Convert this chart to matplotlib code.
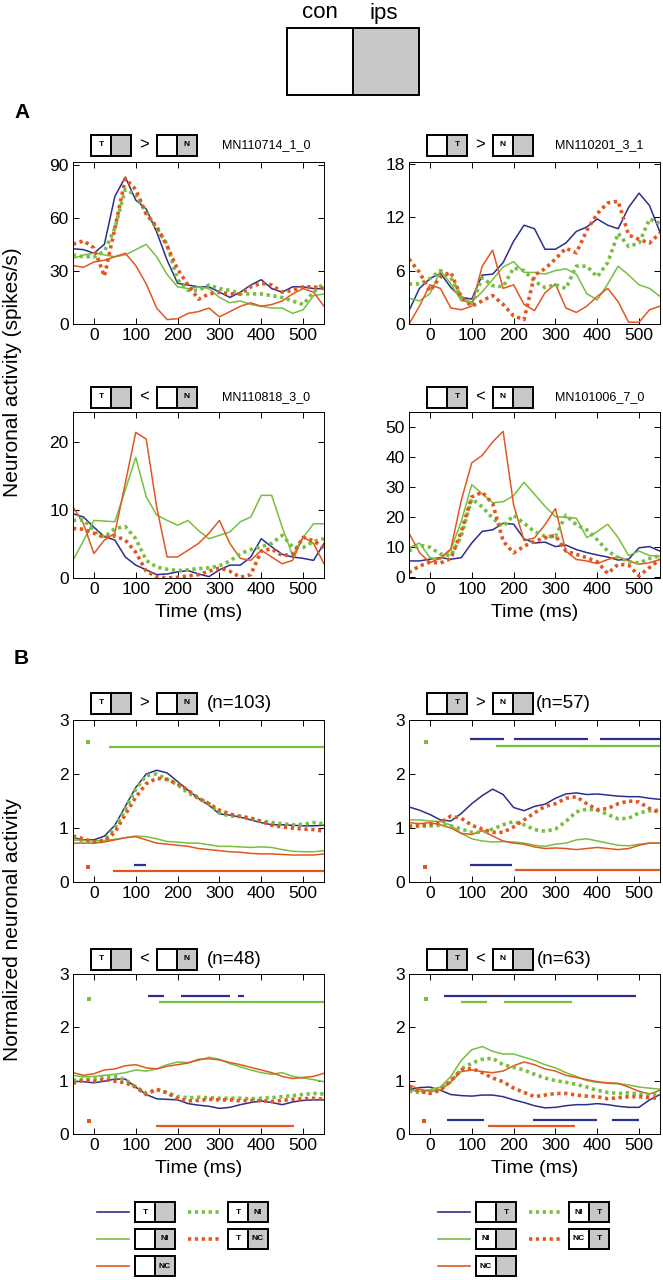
import numpy as np
import matplotlib.pyplot as plt
from matplotlib.patches import Rectangle

plt.rcParams['font.family'] = ['Liberation Sans', 'DejaVu Sans']
NARROW = ['Liberation Sans Narrow', 'Liberation Sans', 'DejaVu Sans']

BLUE = '#2b2f8e'
GREEN = '#76bf3f'
ORANGE = '#e2571f'
GRAY = '#c8c8c8'

W, H = 663, 1280

# time axis (ms), common to all panels
t = np.arange(-50, 551, 25)

# ---- panel A, single neurons (spikes/s) ----
a1_blue = [42.5, 42, 40, 45, 72, 83, 70, 65, 52, 36, 23, 22, 21, 21, 18, 15, 18, 22, 25, 20, 18, 21, 21, 20, 20]
a1_green = [37, 39, 40, 39, 38, 39, 42, 45, 38, 28, 21, 20, 21, 20, 15, 12, 13, 11, 10, 9, 9, 6, 8, 16, 17]
a1_orange = [33, 32, 35, 36, 38, 40, 33, 22.7, 9, 2.5, 3, 6, 7, 9, 4, 7, 10, 12, 10, 11, 13, 17, 20, 18, 10]
a1_green_dot = [39, 38, 38, 41, 54, 76, 73, 63, 54, 45, 25, 19, 19, 22, 20, 19, 17, 17, 17, 16, 15, 13, 11, 18, 23]
a1_orange_dot = [45, 47, 43, 27, 54, 82, 76, 62, 55, 44, 31, 22, 14, 17, 18, 17, 17, 21, 23, 22, 18, 19, 21, 21, 20]

a2_blue = [1.5, 4.0, 5.1, 5.7, 4.1, 3.0, 2.8, 5.5, 5.6, 6.9, 9.3, 11.1, 10.7, 8.4, 8.4, 9.1, 10.4, 10.9, 11.8, 11.1, 10.7, 13.1, 14.7, 13.3, 10.3]
a2_green = [2.9, 2.6, 3.4, 6.0, 4.5, 2.6, 2.5, 3.6, 5.0, 6.4, 7.0, 5.8, 5.8, 5.6, 6.0, 6.2, 5.6, 3.4, 2.7, 4.5, 6.5, 5.5, 4.4, 4.0, 3.1]
a2_orange = [0.0, 2.0, 4.4, 4.0, 1.8, 1.6, 2.0, 6.5, 8.3, 4.0, 4.4, 2.2, 1.5, 3.5, 4.5, 1.8, 1.3, 2.0, 3.1, 4.0, 2.5, 0.2, 0.2, 1.6, 2.0]
a2_green_dot = [4.5, 4.5, 5.1, 6.0, 5.2, 3.0, 2.2, 5.2, 4.3, 4.2, 6.3, 6.0, 4.8, 4.1, 4.4, 4.0, 6.5, 6.5, 5.3, 6.9, 10.2, 8.7, 9.1, 11.8, 11.3]
a2_orange_dot = [7.3, 5.8, 3.7, 5.3, 5.8, 3.0, 2.0, 2.6, 3.2, 2.2, 0.9, 0.5, 5.5, 6.2, 7.3, 8.5, 8.0, 10.5, 12.4, 13.6, 13.8, 10.0, 9.5, 9.1, 10.2]

a3_blue = [9.5, 9.0, 7.5, 6.1, 5.6, 3.1, 1.9, 1.2, 0.5, 0.6, 0.9, 1.1, 0.6, 0.2, 1.2, 1.9, 1.9, 3.1, 5.8, 4.6, 3.5, 3.1, 2.9, 2.6, 5.1]
a3_green = [2.6, 5.5, 8.5, 8.4, 8.3, 13.0, 17.8, 12.0, 9.3, 8.5, 7.8, 8.5, 7.0, 5.8, 6.3, 6.8, 8.3, 9.0, 12.2, 12.2, 7.5, 3.3, 6.0, 8.0, 8.0]
a3_orange = [10.5, 8.0, 3.6, 5.6, 6.6, 14.0, 21.5, 20.5, 10.5, 3.1, 3.1, 4.1, 5.1, 6.6, 8.5, 5.1, 2.9, 2.6, 4.1, 3.1, 2.1, 2.6, 6.1, 5.1, 2.1]
a3_green_dot = [8.5, 8.6, 7.0, 6.0, 7.3, 7.6, 5.8, 2.6, 1.6, 1.3, 1.1, 1.2, 1.4, 1.5, 1.8, 2.5, 3.6, 4.2, 4.6, 5.1, 6.3, 4.6, 4.5, 5.4, 5.8]
a3_orange_dot = [7.3, 7.2, 6.6, 6.0, 6.2, 5.6, 3.8, 1.0, 0.2, 0.0, 0.1, 0.3, 0.5, 1.0, 1.5, 1.0, 0.1, 0.5, 4.0, 4.3, 3.3, 3.5, 6.0, 5.5, 4.4]

a4_blue = [5.2, 5.2, 5.8, 6.3, 5.8, 6.3, 11.2, 15.1, 15.6, 17.8, 17.5, 12.6, 11.2, 11.5, 10.0, 10.5, 9.0, 8.0, 7.2, 6.5, 5.5, 5.8, 9.6, 10.0, 8.5]
a4_green = [9.6, 11.2, 6.3, 5.7, 9.0, 18.4, 30.7, 27.7, 24.6, 25.0, 27.0, 31.5, 27.5, 23.5, 20.0, 19.8, 19.5, 13.0, 15.0, 17.5, 13.0, 7.0, 8.5, 7.0, 6.8]
a4_orange = [14.5, 8.0, 4.6, 6.2, 9.2, 25.5, 38.0, 40.5, 45.0, 48.5, 24.0, 12.0, 12.9, 17.3, 22.7, 8.5, 5.7, 5.2, 4.3, 5.7, 6.6, 5.2, 4.1, 4.6, 5.7]
a4_green_dot = [8.5, 10.5, 9.8, 7.5, 7.0, 13.5, 26.0, 23.3, 19.5, 16.7, 20.5, 17.8, 15.0, 13.4, 13.4, 20.5, 17.3, 15.6, 12.3, 8.5, 6.3, 5.0, 4.5, 6.0, 7.0]
a4_orange_dot = [1.3, 3.5, 4.8, 4.5, 6.0, 15.0, 26.6, 28.2, 24.4, 11.8, 7.9, 10.1, 11.8, 12.9, 13.7, 8.5, 7.4, 6.3, 4.9, 1.0, 4.1, 3.8, 0.2, 3.0, 5.7]

# ---- panel B, population averages (normalized) ----
b1_blue = [0.82, 0.78, 0.78, 0.85, 1.05, 1.4, 1.75, 2.0, 2.07, 2.02, 1.86, 1.7, 1.55, 1.42, 1.26, 1.24, 1.2, 1.15, 1.1, 1.06, 1.06, 1.05, 1.04, 1.04, 1.05]
b1_green = [0.78, 0.77, 0.76, 0.77, 0.79, 0.82, 0.85, 0.84, 0.8, 0.75, 0.74, 0.72, 0.72, 0.69, 0.66, 0.66, 0.65, 0.64, 0.65, 0.64, 0.6, 0.57, 0.56, 0.56, 0.58]
b1_orange = [0.72, 0.72, 0.72, 0.74, 0.78, 0.82, 0.84, 0.78, 0.72, 0.7, 0.68, 0.66, 0.62, 0.6, 0.58, 0.56, 0.55, 0.53, 0.52, 0.52, 0.51, 0.5, 0.5, 0.5, 0.52]
b1_green_dot = [0.8, 0.76, 0.74, 0.78, 1.0, 1.35, 1.72, 1.97, 2.0, 1.9, 1.8, 1.65, 1.55, 1.45, 1.28, 1.22, 1.22, 1.18, 1.13, 1.1, 1.08, 1.06, 1.07, 1.1, 1.08]
b1_orange_dot = [0.85, 0.8, 0.74, 0.76, 0.92, 1.25, 1.57, 1.82, 1.92, 1.9, 1.82, 1.7, 1.55, 1.45, 1.33, 1.26, 1.21, 1.18, 1.12, 1.05, 1.02, 1.0, 0.98, 0.97, 0.94]

b2_blue = [1.39, 1.33, 1.25, 1.15, 1.13, 1.27, 1.45, 1.6, 1.72, 1.62, 1.38, 1.32, 1.4, 1.44, 1.55, 1.63, 1.65, 1.62, 1.63, 1.61, 1.59, 1.58, 1.58, 1.55, 1.53]
b2_green = [1.15, 1.15, 1.13, 1.12, 1.05, 0.9, 0.8, 0.76, 0.74, 0.75, 0.74, 0.72, 0.68, 0.66, 0.7, 0.72, 0.78, 0.8, 0.76, 0.72, 0.68, 0.67, 0.7, 0.72, 0.72]
b2_orange = [1.1, 1.08, 1.1, 1.06, 1.0, 0.9, 0.88, 0.95, 0.85, 0.76, 0.72, 0.7, 0.65, 0.62, 0.63, 0.62, 0.6, 0.62, 0.64, 0.62, 0.6, 0.62, 0.68, 0.72, 0.72]
b2_green_dot = [1.03, 1.03, 1.04, 1.05, 1.04, 0.98, 0.92, 0.92, 0.98, 1.06, 1.12, 1.06, 0.97, 0.94, 0.98, 1.12, 1.3, 1.35, 1.33, 1.25, 1.17, 1.18, 1.28, 1.32, 1.33]
b2_orange_dot = [1.03, 1.05, 1.06, 1.1, 1.22, 1.18, 1.05, 0.98, 0.92, 0.92, 1.02, 1.15, 1.28, 1.4, 1.45, 1.55, 1.58, 1.45, 1.34, 1.36, 1.45, 1.5, 1.48, 1.36, 1.28]

b3_blue = [0.99, 0.98, 0.96, 0.99, 1.03, 1.03, 0.88, 0.74, 0.66, 0.65, 0.64, 0.57, 0.54, 0.52, 0.48, 0.5, 0.55, 0.59, 0.62, 0.59, 0.55, 0.6, 0.63, 0.64, 0.64]
b3_green = [1.1, 1.07, 1.08, 1.1, 1.12, 1.15, 1.2, 1.18, 1.22, 1.3, 1.35, 1.34, 1.38, 1.44, 1.4, 1.32, 1.26, 1.2, 1.15, 1.12, 1.15, 1.08, 1.05, 1.02, 0.98]
b3_orange = [1.15, 1.1, 1.13, 1.2, 1.22, 1.28, 1.3, 1.24, 1.22, 1.27, 1.3, 1.33, 1.4, 1.41, 1.39, 1.34, 1.3, 1.25, 1.2, 1.15, 1.08, 1.04, 1.06, 1.08, 1.14]
b3_green_dot = [1.01, 1.02, 1.03, 1.06, 1.08, 1.02, 0.88, 0.77, 0.83, 0.78, 0.7, 0.68, 0.69, 0.68, 0.67, 0.67, 0.67, 0.66, 0.67, 0.68, 0.7, 0.72, 0.74, 0.76, 0.75]
b3_orange_dot = [0.95, 1.01, 0.99, 1.02, 0.99, 0.96, 0.88, 0.74, 0.84, 0.77, 0.66, 0.62, 0.63, 0.65, 0.64, 0.64, 0.62, 0.63, 0.62, 0.61, 0.63, 0.65, 0.66, 0.67, 0.65]

b4_blue = [0.83, 0.87, 0.88, 0.82, 0.74, 0.72, 0.71, 0.73, 0.73, 0.7, 0.64, 0.59, 0.53, 0.49, 0.5, 0.53, 0.55, 0.55, 0.57, 0.55, 0.52, 0.5, 0.5, 0.64, 0.74]
b4_green = [0.82, 0.8, 0.83, 0.88, 1.08, 1.38, 1.58, 1.64, 1.55, 1.5, 1.5, 1.44, 1.38, 1.3, 1.24, 1.15, 1.08, 1.0, 0.97, 0.95, 0.94, 0.92, 0.88, 0.86, 0.84]
b4_orange = [0.92, 0.84, 0.8, 0.82, 0.98, 1.17, 1.2, 1.17, 1.15, 1.18, 1.28, 1.35, 1.3, 1.22, 1.18, 1.1, 1.06, 1.02, 0.98, 0.96, 0.95, 0.88, 0.8, 0.75, 0.82]
b4_green_dot = [0.8, 0.78, 0.8, 0.85, 0.98, 1.22, 1.33, 1.4, 1.42, 1.3, 1.25, 1.2, 1.12, 1.05, 1.0, 0.97, 0.93, 0.88, 0.82, 0.78, 0.76, 0.77, 0.75, 0.74, 0.75]
b4_orange_dot = [0.88, 0.8, 0.76, 0.82, 1.0, 1.2, 1.23, 1.15, 1.05, 0.98, 0.86, 0.78, 0.7, 0.73, 0.76, 0.76, 0.73, 0.71, 0.7, 0.66, 0.68, 0.7, 0.7, 0.68, 0.67]

# significant epochs (start ms, end ms), level, colour key
b1_bars = [([(35, 550)], 2.5, 'g'), ([(95, 125)], 0.31, 'b'), ([(45, 550)], 0.2, 'o')]
b2_bars = [([(96, 178), (201, 378), (406, 550)], 2.65, 'b'), ([(158, 550)], 2.52, 'g'),
           ([(96, 196)], 0.32, 'b'), ([(203, 550)], 0.22, 'o')]
b3_bars = [([(129, 167), (208, 325), (344, 359)], 2.58, 'b'), ([(155, 550)], 2.47, 'g'),
           ([(148, 478)], 0.15, 'o')]
b4_bars = [([(34, 493)], 2.58, 'b'), ([(74, 136), (177, 340)], 2.47, 'g'),
           ([(41, 129), (246, 399), (435, 499)], 0.26, 'b'), ([(138, 346)], 0.15, 'o')]
# small reference squares before stimulus onset (ms, level, colour key)
b1_marks = [(-15, 2.6, 'g'), (-15, 0.27, 'o')]
b2_marks = [(-10, 2.6, 'g'), (-12, 0.27, 'o')]
b3_marks = [(-12, 2.53, 'g'), (-12, 0.25, 'o')]
b4_marks = [(-9, 2.53, 'g'), (-14, 0.25, 'o')]

COLS = {'b': BLUE, 'g': GREEN, 'o': ORANGE}


def px_axes(fig, x0, y0, x1, y1):
    return fig.add_axes([x0 / W, 1 - y1 / H, (x1 - x0) / W, (y1 - y0) / H])


def style_axes(ax, ylim, yticks):
    ax.set_xlim(-50, 550)
    ax.set_ylim(*ylim)
    ax.set_xticks(range(0, 501, 100))
    ax.set_yticks(yticks)
    ax.tick_params(direction='in', top=True, right=True, length=4, width=0.7,
                   labelsize=12.5, pad=3)
    for lab in ax.get_xticklabels() + ax.get_yticklabels():
        lab.set_family(NARROW)
    for s in ax.spines.values():
        s.set_linewidth(0.7)
        s.set_color('black')


def draw_curves(ax, blue, green, orange, green_dot, orange_dot):
    ax.plot(t, blue, color=BLUE, lw=1.1)
    ax.plot(t, green, color=GREEN, lw=1.1)
    ax.plot(t, orange, color=ORANGE, lw=1.1)
    ax.plot(t, green_dot, color=GREEN, lw=2.6, ls=(0, (0.9, 1.0)), dash_capstyle='butt')
    ax.plot(t, orange_dot, color=ORANGE, lw=2.6, ls=(0, (0.9, 1.0)), dash_capstyle='butt')


def draw_bars(ax, bars, marks):
    for segs, lvl, c in bars:
        for s0, s1 in segs:
            ax.plot([s0, s1], [lvl, lvl], color=COLS[c], lw=1.6, solid_capstyle='butt')
    for x, lvl, c in marks:
        ax.plot([x], [lvl], 's', color=COLS[c], ms=3, mew=0)


def time_label(ax):
    ax.set_xlabel('Time (ms)', fontsize=14, labelpad=5, family=NARROW)


def icon(ov, x, yc, left='', right='', w=20, h=21):
    y0 = yc - h / 2
    ov.add_patch(Rectangle((x, y0), w, h, facecolor='white', edgecolor='black', lw=1.4))
    ov.add_patch(Rectangle((x + w, y0), w, h, facecolor=GRAY, edgecolor='black', lw=1.4))
    if left:
        ov.text(x + w / 2, yc, left, ha='center', va='center', fontsize=6, fontweight='bold')
    if right:
        ov.text(x + 1.5 * w, yc, right, ha='center', va='center', fontsize=6, fontweight='bold')


def title_row(ov, xoff, yc, first, comp, second, label, lx, lsize):
    icon(ov, 91 + xoff, yc, *first)
    ov.text(144 + xoff, yc, comp, ha='center', va='center', fontsize=12)
    icon(ov, 157 + xoff, yc, *second)
    ov.text(lx, yc, label, ha='left', va='center', fontsize=lsize, family=NARROW)


fig = plt.figure(figsize=(W / 100, H / 100), dpi=100)

LX = (73, 324)
RX = (409, 660)

ax = px_axes(fig, LX[0], 162, LX[1], 324)
draw_curves(ax, a1_blue, a1_green, a1_orange, a1_green_dot, a1_orange_dot)
style_axes(ax, (0, 91.5), [0, 30, 60, 90])

ax = px_axes(fig, RX[0], 162, RX[1], 324)
draw_curves(ax, a2_blue, a2_green, a2_orange, a2_green_dot, a2_orange_dot)
style_axes(ax, (0, 18.2), [0, 6, 12, 18])

ax = px_axes(fig, LX[0], 412, LX[1], 578)
draw_curves(ax, a3_blue, a3_green, a3_orange, a3_green_dot, a3_orange_dot)
style_axes(ax, (0, 24.5), [0, 10, 20])
time_label(ax)

ax = px_axes(fig, RX[0], 412, RX[1], 578)
draw_curves(ax, a4_blue, a4_green, a4_orange, a4_green_dot, a4_orange_dot)
style_axes(ax, (-0.5, 55), [0, 10, 20, 30, 40, 50])
time_label(ax)

panels_b = [
    (LX, 720, 882, (b1_blue, b1_green, b1_orange, b1_green_dot, b1_orange_dot), b1_bars, b1_marks),
    (RX, 720, 882, (b2_blue, b2_green, b2_orange, b2_green_dot, b2_orange_dot), b2_bars, b2_marks),
    (LX, 974, 1134, (b3_blue, b3_green, b3_orange, b3_green_dot, b3_orange_dot), b3_bars, b3_marks),
    (RX, 974, 1134, (b4_blue, b4_green, b4_orange, b4_green_dot, b4_orange_dot), b4_bars, b4_marks),
]
for i, (xs, y0, y1, curves, bars, marks) in enumerate(panels_b):
    ax = px_axes(fig, xs[0], y0, xs[1], y1)
    draw_curves(ax, *curves)
    draw_bars(ax, bars, marks)
    style_axes(ax, (0, 3), [0, 1, 2, 3])
    if i >= 2:
        time_label(ax)

# overlay in pixel coordinates for labels, icons and legends
ov = fig.add_axes([0, 0, 1, 1], zorder=-1)
ov.set_xlim(0, W)
ov.set_ylim(H, 0)
ov.axis('off')

# header
ov.text(320, 13, 'con', ha='center', va='center', fontsize=16)
ov.text(384, 13, 'ips', ha='center', va='center', fontsize=16)
ov.add_patch(Rectangle((287, 28), 66, 67, facecolor='white', edgecolor='black', lw=1.4))
ov.add_patch(Rectangle((353, 28), 66, 67, facecolor=GRAY, edgecolor='black', lw=1.4))

ov.text(14, 113, 'A', fontsize=15, fontweight='bold', va='center')
ov.text(14, 658, 'B', fontsize=15, fontweight='bold', va='center')

ov.text(13, 372, 'Neuronal activity (spikes/s)', rotation=90, ha='center', va='center', fontsize=15)
ov.text(13, 930, 'Normalized neuronal activity', rotation=90, ha='center', va='center', fontsize=15)

# panel titles
R = 336
title_row(ov, 0, 145, ('T', ''), '>', ('', 'N'), 'MN110714_1_0', 222, 9)
title_row(ov, R, 145, ('', 'T'), '>', ('N', ''), 'MN110201_3_1', 555, 9)
title_row(ov, 0, 397, ('T', ''), '<', ('', 'N'), 'MN110818_3_0', 222, 9)
title_row(ov, R, 397, ('', 'T'), '<', ('N', ''), 'MN101006_7_0', 555, 9)
title_row(ov, 0, 703, ('T', ''), '>', ('', 'N'), '(n=103)', 207, 13.5)
title_row(ov, R, 703, ('', 'T'), '>', ('N', ''), '(n=57)', 536, 13.5)
title_row(ov, 0, 959, ('T', ''), '<', ('', 'N'), '(n=48)', 207, 13.5)
title_row(ov, R, 959, ('', 'T'), '<', ('N', ''), '(n=63)', 537, 13.5)

# legends
rows = [1212, 1239, 1266]
leg_left = [
    (BLUE, '-', ('T', ''), 0), (GREEN, ':', ('T', 'NI'), 0),
    (GREEN, '-', ('', 'NI'), 1), (ORANGE, ':', ('T', 'NC'), 1),
    (ORANGE, '-', ('', 'NC'), 2),
]
leg_right = [
    (BLUE, '-', ('', 'T'), 0), (GREEN, ':', ('NI', 'T'), 0),
    (GREEN, '-', ('NI', ''), 1), (ORANGE, ':', ('NC', 'T'), 1),
    (ORANGE, '-', ('NC', ''), 2),
]
for entries, xoff in [(leg_left, 0), (leg_right, 341)]:
    for col, style, letters, r in entries:
        y = rows[r]
        if style == '-':
            ov.plot([97 + xoff, 129 + xoff], [y, y], color=col, lw=1.2)
            icon(ov, 135 + xoff, y, *letters, h=20)
        else:
            ov.plot([188 + xoff, 220 + xoff], [y, y], color=col, lw=2.6,
                    ls=(0, (0.9, 1.0)), dash_capstyle='butt')
            icon(ov, 228 + xoff, y, *letters, h=20)

fig.savefig('out.png', dpi=100)
